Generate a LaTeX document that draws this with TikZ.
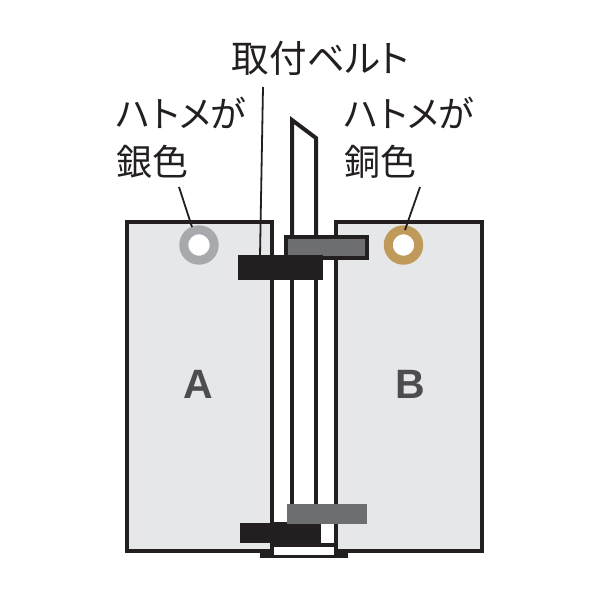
\documentclass[tikz,border=0pt]{standalone}
\usepackage{fontspec}
\setmainfont[RawFeature=+palt]{Noto Sans CJK JP}
\newfontfamily\latinlabel{Liberation Sans}
\definecolor{ink}{HTML}{231F20}
\definecolor{panelgray}{HTML}{E6E7E8}
\definecolor{strapgray}{HTML}{6D6E70}
\definecolor{silverring}{HTML}{A7A9AC}
\definecolor{copperring}{HTML}{C09A5B}
\definecolor{lettergray}{HTML}{4D4D4F}
\tikzset{
  panelbox/.style={draw=ink,line width=4pt,fill=panelgray,rectangle,inner sep=0pt,minimum width=#1,minimum height=329pt},
  strapbox/.style={rectangle,inner sep=0pt,fill=ink},
  ring/.style={circle,inner sep=0pt,minimum size=30.4pt,fill=white,draw=#1,line width=9pt},
  jlabel/.style={inner sep=0pt,text=ink,font=\fontsize{36}{48}\selectfont,align=left},
  beltlabel/.style={inner sep=0pt,text=ink,font=\fontsize{37.5}{46}\selectfont},
  bigletter/.style={inner sep=0pt,text=lettergray,font=\fontsize{41}{41}\selectfont\latinlabel\bfseries},
  leader/.style={draw=ink,line width=1.8pt},
  body/.style={draw=ink,line width=4pt}
}
\begin{document}
\begin{tikzpicture}[x=1pt,y=-1pt]
\useasboundingbox (0,0) rectangle (600,600);
% bottom tray
\fill[white] (262,548) rectangle (346,555);
\fill[ink] (260,553) rectangle (274,558);
\fill[ink] (334,553) rectangle (348,558);
\fill[ink] (260,555) rectangle (348,558);
% panels
\node[panelbox=145.5pt] (panelA) at (199.25,386) {};
\node[panelbox=146pt] (panelB) at (409,386) {};
% spine
\draw[body,line join=miter] (292,260) -- (292,120) -- (316,138) -- (316,260);
\draw[body] (292,280) -- (292,523);
\draw[body] (316,280) -- (316,523);
\draw[body] (274,545) -- (334,545);
% grey strap, top
\node[strapbox,fill=strapgray,draw=ink,line width=4pt,minimum width=81pt,minimum height=21pt] (grayTop) at (326.5,247.5) {};
% black strap, top
\node[strapbox,minimum width=85pt,minimum height=25pt] (blackTop) at (280.5,267.5) {};
% bottom straps
\node[strapbox,minimum width=81pt,minimum height=20pt] (blackLow) at (280.5,533) {};
\fill[ink] (270,522) rectangle (321,547);
\node[strapbox,fill=strapgray,minimum width=80pt,minimum height=20pt] (grayLow) at (327,514) {};
% eyelets
\node[ring=silverring] (eyeA) at (199,245) {};
\node[ring=copperring] (eyeB) at (403.5,245) {};
% letters
\node[bigletter] (letterA) at (198,384) {A};
\node[bigletter] (letterB) at (410,384) {B};
% labels
\node[beltlabel,anchor=center] (belt) at (320.5,58) {取付ベルト};
\node[jlabel,anchor=north west] (silver) at (116,97) {ハトメが\\銀色};
\node[jlabel,anchor=north west] (copper) at (344,97) {ハトメが\\銅色};
% leaders
\coordinate (beltEnd) at (263,87);
\coordinate (beltTip) at (260,256);
\coordinate (silverEnd) at (179,187);
\coordinate (silverTip) at (192,227);
\coordinate (copperEnd) at (420,187);
\coordinate (copperTip) at (405,230);
\draw[leader] (beltEnd) -- (beltTip);
\draw[leader] (silverEnd) -- (silverTip);
\draw[leader] (copperEnd) -- (copperTip);
\end{tikzpicture}
\end{document}
